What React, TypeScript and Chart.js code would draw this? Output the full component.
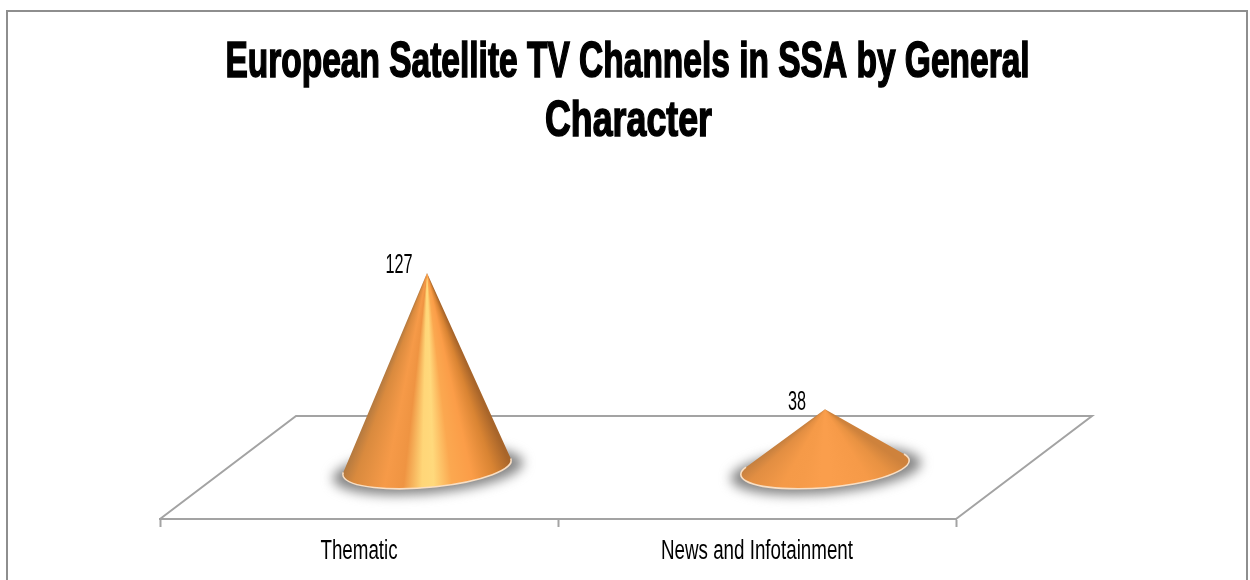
import React, { useEffect, useRef } from "react";
import { Chart, BarController, BarElement, registerables } from "chart.js";

const categories = ["Thematic", "News and Infotainment"];
const channelCounts = [127, 38];
const titleLines = ["European Satellite TV Channels in SSA by General", "Character"];

const SANS = '"Liberation Sans", sans-serif';
const FLOOR_LINE = "#a3a3a3";
const FLOOR_DX = 136;
const FLOOR_DY = 103;
const BASE_RX = 84.5;
const BASE_RY = 20;
const BASE_TILT = -0.088;

// Shading around the cone: position across the base (-1..1) with its colour.
const coneShade: [number, number[], number[]][] = [
  [-1, [172, 118, 64], [190, 124, 62]],
  [-0.85, [217, 138, 62], [226, 142, 66]],
  [-0.5, [246, 154, 72], [245, 154, 72]],
  [-0.28, [239, 148, 66], [246, 155, 73]],
  [-0.06, [255, 214, 120], [250, 158, 76]],
  [0.08, [255, 217, 124], [250, 158, 76]],
  [0.3, [251, 168, 80], [248, 156, 74]],
  [0.55, [251, 157, 72], [246, 154, 72]],
  [0.82, [217, 132, 51], [232, 146, 66]],
  [1, [168, 101, 42], [206, 130, 60]],
];

class ConeElement extends BarElement {
  static id = "cone";
  static defaults = BarElement.defaults;

  draw(ctx: CanvasRenderingContext2D) {
    const self = this as any;
    const cx = self.x + FLOOR_DX / 2;
    const cy = self.base - FLOOR_DY / 2;
    const apexY = self.y - FLOOR_DY / 2;
    const height = cy - apexY;

    ctx.save();
    // soft ground shadow
    ctx.save();
    ctx.filter = "blur(6px)";
    ctx.fillStyle = "#848484";
    ctx.beginPath();
    ctx.ellipse(cx + 1, cy + 3, BASE_RX + 11, BASE_RY + 3, BASE_TILT, 0, Math.PI * 2);
    ctx.fill();
    ctx.restore();

    // tangent lines from the apex to the tilted base ellipse
    const cos = Math.cos(-BASE_TILT);
    const sin = Math.sin(-BASE_TILT);
    const px = (height * sin) / BASE_RX;
    const py = (-height * cos) / BASE_RY;
    const dist = Math.hypot(px, py);
    const mid = Math.atan2(py, px);
    const spread = Math.acos(1 / dist);
    const right = mid + spread;
    const left = mid - spread + Math.PI * 2;

    ctx.translate(cx, cy);
    ctx.beginPath();
    ctx.moveTo(0, -height);
    ctx.ellipse(0, 0, BASE_RX, BASE_RY, BASE_TILT, right, left);
    ctx.closePath();

    const mixed = (a: number[], b: number[], w: number) =>
      `rgb(${a.map((v, i) => Math.round(v * w + b[i] * (1 - w))).join(",")})`;
    const weight = height / BASE_RX > 1.5 ? 1 : 0;
    const grad = (ctx as any).createConicGradient(0, 0, -height);
    coneShade.forEach(([f, tall, flat]) => {
      const yy = height + BASE_RY * Math.sqrt(Math.max(0, 1 - f * f));
      const angle = Math.atan2(yy, f * BASE_RX);
      grad.addColorStop(angle / (Math.PI * 2), mixed(tall, flat, weight));
    });
    ctx.fillStyle = grad;
    ctx.fill();

    // pale rim along the visible edge of the base
    ctx.beginPath();
    ctx.ellipse(0, 0, BASE_RX, BASE_RY, BASE_TILT, right, left);
    ctx.strokeStyle = "#f9dfc4";
    ctx.lineWidth = 1.6;
    ctx.stroke();
    ctx.restore();
  }
}

class ConeController extends BarController {
  static id = "cone";
  static defaults = { ...BarController.defaults, dataElementType: "cone" };
  static overrides = BarController.overrides;
}

Chart.register(...registerables, ConeElement, ConeController);

const squeezedText = (
  ctx: CanvasRenderingContext2D,
  text: string,
  x: number,
  y: number,
  font: string,
  squeeze: number,
  embolden = 0
) => {
  ctx.save();
  ctx.translate(x, y);
  ctx.scale(squeeze, 1);
  ctx.font = font;
  ctx.fillStyle = "#000";
  ctx.textAlign = "center";
  ctx.textBaseline = "middle";
  ctx.fillText(text, 0, 0);
  if (embolden > 0) {
    ctx.strokeStyle = "#000";
    ctx.lineWidth = embolden;
    ctx.lineJoin = "miter";
    ctx.strokeText(text, 0, 0);
  }
  ctx.restore();
};

const framePlugin = {
  id: "frameAndFloor",
  beforeDatasetsDraw(chart: any) {
    const { ctx, chartArea } = chart;
    const { left, right, bottom } = chartArea;
    ctx.save();
    ctx.strokeStyle = "#8e8e8e";
    ctx.lineWidth = 2;
    ctx.strokeRect(7, 11, 1240, 600);
    ctx.strokeStyle = FLOOR_LINE;
    ctx.lineWidth = 2;
    ctx.beginPath();
    ctx.moveTo(left, bottom);
    ctx.lineTo(left + FLOOR_DX, bottom - FLOOR_DY);
    ctx.lineTo(right + FLOOR_DX, bottom - FLOOR_DY);
    ctx.lineTo(right, bottom);
    ctx.stroke();
    ctx.restore();
  },
  afterDraw(chart: any) {
    const { ctx, scales } = chart;
    squeezedText(ctx, titleLines[0], 627.5, 63, `bold 50px ${SANS}`, 0.67, 1.6);
    squeezedText(ctx, titleLines[1], 628.5, 122, `bold 50px ${SANS}`, 0.715, 1.6);
    chart.getDatasetMeta(0).data.forEach((bar: any, i: number) => {
      squeezedText(
        ctx,
        String(channelCounts[i]),
        bar.x + FLOOR_DX / 2 - 28,
        bar.y - FLOOR_DY / 2 - 7.5,
        `28px ${SANS}`,
        0.58
      );
    });
    scales.x.ticks.forEach((tick: any, i: number) => {
      squeezedText(ctx, String(tick.label), scales.x.getPixelForTick(i), 552, `27px ${SANS}`, 0.695);
    });
  },
};

export default function App() {
  const ref = useRef<HTMLCanvasElement>(null);
  useEffect(() => {
    const chart = new Chart(ref.current!, {
      type: "cone" as any,
      data: {
        labels: categories,
        datasets: [
          {
            label: "Channels",
            data: channelCounts,
            backgroundColor: "#f79c4a",
            clip: false as any,
          },
        ],
      },
      options: {
        animation: false,
        responsive: false,
        layout: { padding: { left: 160, right: 294, top: 274, bottom: 0 } },
        plugins: { legend: { display: false }, title: { display: false }, tooltip: { enabled: false } },
        scales: {
          x: {
            offset: true,
            afterFit: (scale: any) => {
              scale.height = 61;
            },
            border: { color: FLOOR_LINE, width: 2 },
            grid: {
              offset: true,
              drawOnChartArea: false,
              drawTicks: true,
              tickLength: 8,
              tickWidth: 2,
              tickColor: FLOOR_LINE,
            },
            ticks: {
              color: "rgba(0,0,0,0)",
              padding: 9,
              maxRotation: 0,
              font: { family: SANS, size: 16 },
            },
          },
          y: { display: false, min: 0, max: 160 },
        },
      },
      plugins: [framePlugin],
    } as any);
    return () => chart.destroy();
  }, []);
  return (
    <div style={{ position: "absolute", left: 0, top: 0, width: 1250, height: 580, background: "#fff", overflow: "hidden" }}>
      <canvas ref={ref} width={1250} height={580} style={{ display: "block" }} />
    </div>
  );
}
